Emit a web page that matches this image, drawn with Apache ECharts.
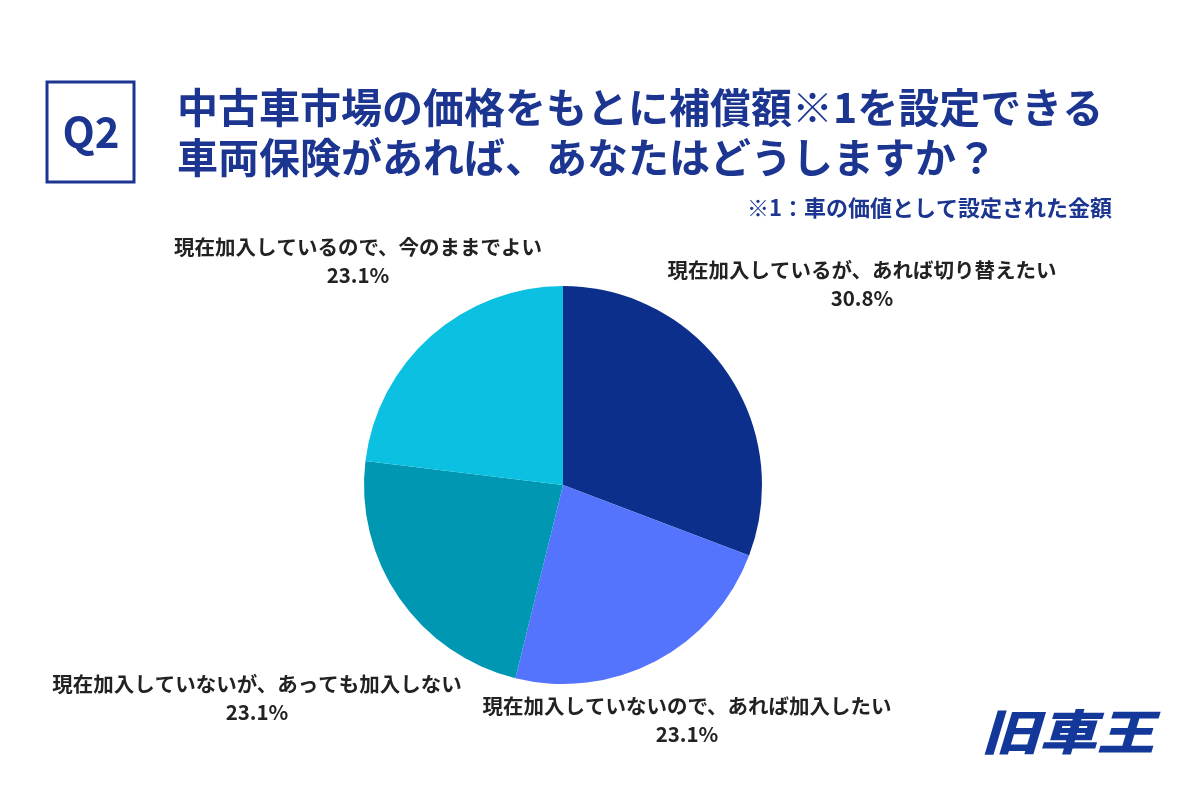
<!DOCTYPE html>
<html>
<head>
<meta charset="utf-8">
<script src="https://cdn.jsdelivr.net/npm/echarts@6/dist/echarts.min.js"></script>
<style>
  html, body { margin: 0; padding: 0; background: #fff; }
  #main { width: 1200px; height: 800px; }
</style>
</head>
<body>
<div id="main"></div>
<script>
// データ
var categories = [
    '現在加入しているが、あれば切り替えたい',
    '現在加入していないので、あれば加入したい',
    '現在加入していないが、あっても加入しない',
    '現在加入しているので、今のままでよい'
];
var values = [30.8, 23.1, 23.1, 23.1];
var colors = ['#0c2f8c', '#5474fe', '#0097b3', '#0bc0e0'];

// ラベルの位置 (中心座標)
var labelPos = [[862, 284], [687, 720], [257, 698], [358, 261]];

var navy = '#1b3591';
var font = '"Noto Sans CJK JP", "Noto Sans", sans-serif';

var myChart = echarts.init(document.getElementById('main'));

var option = {
    backgroundColor: '#ffffff',
    textStyle: { fontFamily: font },
    graphic: [
        {
            type: 'rect',
            shape: { x: 47, y: 82, width: 87, height: 100 },
            style: { fill: 'none', stroke: navy, lineWidth: 3 }
        },
        {
            type: 'text',
            x: 91, y: 132,
            style: {
                text: 'Q2', fill: navy, font: 'bold 42px ' + font,
                align: 'center', verticalAlign: 'middle'
            }
        },
        {
            type: 'text',
            x: 177, y: 107,
            style: {
                text: '中古車市場の価格をもとに補償額※1を設定できる',
                fill: navy, font: 'bold 41px ' + font,
                verticalAlign: 'middle'
            }
        },
        {
            type: 'text',
            x: 177, y: 157,
            style: {
                text: '車両保険があれば、あなたはどうしますか？',
                fill: navy, font: 'bold 41px ' + font,
                verticalAlign: 'middle'
            }
        },
        {
            type: 'text',
            x: 1112, y: 208,
            style: {
                text: '※1：車の価値として設定された金額',
                fill: navy, font: 'bold 22px ' + font,
                align: 'right', verticalAlign: 'middle'
            }
        },
        {
            // ロゴ
            type: 'text',
            x: 1068, y: 732,
            scaleX: 1.2,
            style: {
                text: '旧車王', fill: '#13389a',
                font: 'italic 900 48px ' + font,
                align: 'center', verticalAlign: 'middle'
            }
        }
    ],
    series: [
        {
            name: 'Q2',
            type: 'pie',
            center: [563, 485],
            radius: 199,
            startAngle: 90,
            clockwise: true,
            silent: true,
            color: colors,
            itemStyle: { borderWidth: 0 },
            label: {
                show: true,
                position: 'outside',
                formatter: '{b}\n{c}%',
                align: 'center',
                color: '#222222',
                fontSize: 20.5,
                fontWeight: 'bold',
                lineHeight: 28,
                overflow: 'none',
                width: 500,
                fontFamily: font
            },
            labelLine: { show: false },
            labelLayout: function (params) {
                var p = labelPos[params.dataIndex];
                return {
                    x: p[0], y: p[1],
                    align: 'center',
                    verticalAlign: 'middle'
                };
            },
            data: categories.map(function (name, i) {
                return { name: name, value: values[i] };
            })
        }
    ]
};

myChart.setOption(option);
</script>
</body>
</html>
